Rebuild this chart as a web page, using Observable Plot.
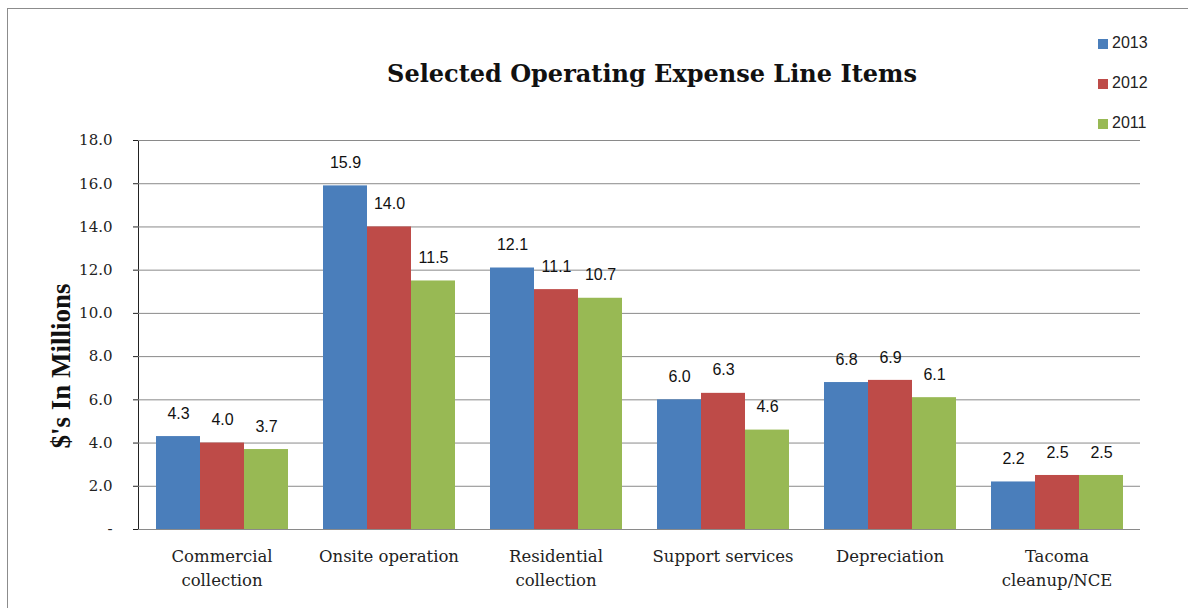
<!DOCTYPE html>
<html><head><meta charset="utf-8">
<script src="https://cdn.jsdelivr.net/npm/d3@7"></script>
<script src="https://cdn.jsdelivr.net/npm/@observablehq/plot@0.6"></script>
<style>
body{margin:0;background:#fff;}
#wrap{position:relative;width:1188px;height:608px;overflow:hidden;}
#frame{position:absolute;left:7px;top:8px;width:1190px;height:610px;border:1px solid #8c8c8c;box-sizing:border-box;}
#title{position:absolute;left:0;top:59px;width:1304px;text-align:center;font:bold 24px "DejaVu Serif",serif;color:#111;}
#ylab{position:absolute;left:61px;top:366px;transform:translate(-50%,-50%) rotate(-90deg);font:bold 27px "Liberation Serif",serif;white-space:nowrap;color:#111;}
#legend{position:absolute;left:1098px;top:34px;font:16px "Liberation Sans",sans-serif;color:#222;}
#legend div{height:40px;display:flex;align-items:flex-start;}
#legend span.sw{display:inline-block;width:10px;height:10px;margin-right:4px;margin-top:5px;}
#chart{position:absolute;left:0;top:0;}
</style></head>
<body><div id="wrap"><div id="frame"></div><div id="chart"></div><div id="title"></div><div id="ylab"></div><div id="legend"></div></div>
<script>
const categories = ["Commercial\ncollection","Onsite operation","Residential\ncollection","Support services","Depreciation","Tacoma\ncleanup/NCE"];
const years = ["2013","2012","2011"];
const values2013 = [4.3,15.9,12.1,6.0,6.8,2.2];
const values2012 = [4.0,14.0,11.1,6.3,6.9,2.5];
const values2011 = [3.7,11.5,10.7,4.6,6.1,2.5];
const colors = ["#4a7ebb","#be4b48","#98b954"];
const yTicks = [0,2,4,6,8,10,12,14,16,18];
const titleText = "Selected Operating Expense Line Items";
const yLabel = "$'s In Millions";

const series = [values2013, values2012, values2011];
const data = [];
categories.forEach((c,i)=>years.forEach((yr,j)=>data.push({category:c, year:yr, value:series[j][i]})));

const marks = [
  Plot.gridY(yTicks,{stroke:"#8a8a8a", strokeOpacity:1, strokeWidth:1}),
  Plot.barY(data,{fx:"category", x:"year", y:"value", fill:"year", inset:0}),
  Plot.text(data,{fx:"category", x:"year", y:"value", text:d=>d.value.toFixed(1), dy:-23, fontFamily:"'Liberation Sans',sans-serif", fontSize:16, fill:"#111"}),
  Plot.ruleY([0],{stroke:"#8a8a8a"})
];
const useAxisMark = typeof Plot.axisFx === "function";
if (useAxisMark) marks.push(Plot.axisFx({anchor:"bottom", tickSize:0, tickPadding:16, fontSize:16.5, lineHeight:1.45, label:null, lineAnchor:"top"}));

const chart = Plot.plot({
  width:1188, height:608,
  marginLeft:137, marginRight:48, marginTop:140, marginBottom:79,
  style:{fontFamily:"'DejaVu Serif',serif", fontSize:"15px", color:"#222", background:"transparent"},
  fx:{domain:categories, padding:0, label:null, axis: useAxisMark ? null : "bottom", tickSize:0, tickPadding:18, fontSize:16},
  x:{domain:years, paddingInner:0, paddingOuter:0.36, axis:null},
  y:{domain:[0,18], ticks:yTicks, tickFormat:d=>d===0?"-":d.toFixed(1), label:null, tickSize:5, tickPadding:21, line:true, fontSize:16},
  color:{domain:years, range:colors},
  marks
});
document.getElementById("chart").appendChild(chart);
document.getElementById("title").textContent = titleText;
document.getElementById("ylab").textContent = yLabel;
const lg = document.getElementById("legend");
years.forEach((y,i)=>{const d=document.createElement("div");d.innerHTML=`<span class="sw" style="background:${colors[i]}"></span>${y}`;lg.appendChild(d);});
</script></body></html>
